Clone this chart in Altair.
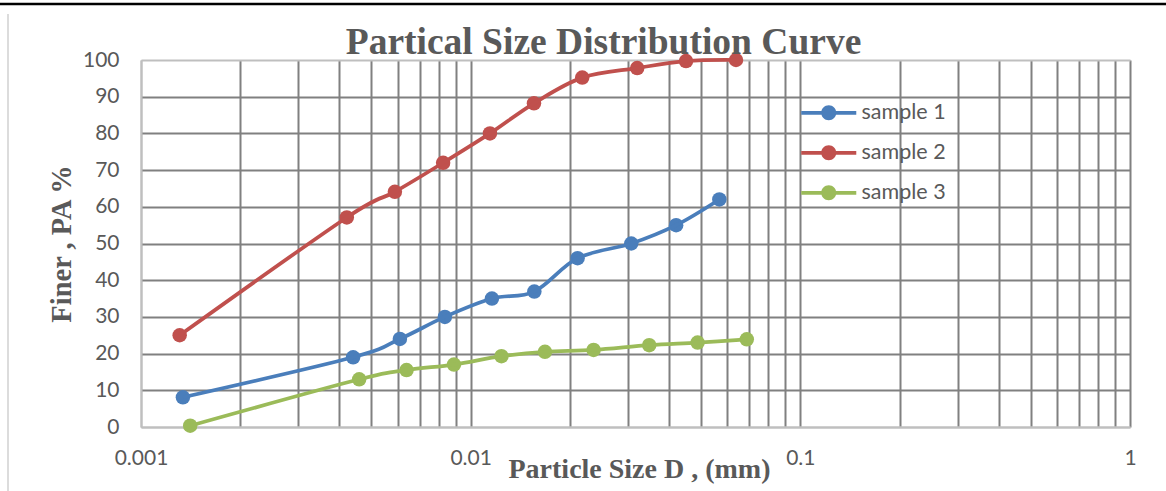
import altair as alt
import pandas as pd

series_names = ["sample 1", "sample 2", "sample 3"]
series_colors = ["#4A7EBB", "#C0504D", "#9BBB59"]

s1_d = [0.00134, 0.0044, 0.0061, 0.00835, 0.0116, 0.0156, 0.0211, 0.0307, 0.042, 0.0568]
s1_f = [8.1, 19, 24, 30, 35, 36.9, 46, 50, 55, 62]

s2_d = [0.00131, 0.00421, 0.00589, 0.00825, 0.01144, 0.01556, 0.0218, 0.032, 0.045, 0.0638]
s2_f = [25, 57.1, 64.1, 72, 80, 88.2, 95.2, 97.8, 99.7, 100]

s3_d = [0.00141, 0.00459, 0.00639, 0.0089, 0.0124, 0.0168, 0.0236, 0.0348, 0.0488, 0.0688]
s3_f = [0.35, 13, 15.5, 17, 19.3, 20.5, 21, 22.3, 23, 23.9]

x_ticks = [0.001, 0.002, 0.003, 0.004, 0.005, 0.006, 0.007, 0.008, 0.009,
           0.01, 0.02, 0.03, 0.04, 0.05, 0.06, 0.07, 0.08, 0.09,
           0.1, 0.2, 0.3, 0.4, 0.5, 0.6, 0.7, 0.8, 0.9, 1]
x_labelled = [0.001, 0.01, 0.1, 1]
y_ticks = [0.0, 10.0, 20.0, 30.0, 40.0, 50.0, 60.0, 70.0, 80.0, 90.0, 100.0]

rows = []
for name, ds, fs in zip(series_names, [s1_d, s2_d, s3_d], [s1_f, s2_f, s3_f]):
    for i, (d, f) in enumerate(zip(ds, fs)):
        rows.append({"series": name, "D": d, "finer": f, "order": i})
df = pd.DataFrame(rows)

GRID = "#808080"
EDGE = "#BFBFBF"
TXT = "#595959"

color_scale = alt.Scale(domain=series_names, range=series_colors)

legend_path = ("M-3.67,-0.25H3.67V0.25H-3.67Z "
               "M1,0A1,1 0 1,1 -1,0A1,1 0 1,1 1,0Z")


def make_legend():
    return alt.Legend(
        title=None,
        orient="none",
        legendX=677,
        legendY=42,
        padding=0,
        symbolType=legend_path,
        symbolSize=225,
        symbolStrokeWidth=0,
        symbolOpacity=1,
        labelOffset=22,
        labelFont="Lato",
        labelFontSize=21.5,
        labelColor=TXT,
        rowPadding=17,
    )


x_axis = alt.Axis(
    values=x_ticks,
    format="~g",
    labelExpr="indexof(%s, datum.value) >= 0 ? datum.label : ''" % str(x_labelled),
    grid=True,
    gridColor={"condition": {"test": "datum.value == 0.001", "value": EDGE}, "value": GRID},
    gridWidth=2,
    ticks=False,
    domainColor=EDGE,
    domainWidth=2,
    labelFont="Lato",
    labelFontSize=21,
    labelColor=TXT,
    labelPadding=20,
    labelFlush=False,
    labelOverlap=False,
    title="Particle Size D , (mm)",
    titleFont="Liberation Serif",
    titleFontSize=28,
    titleFontWeight="bold",
    titleColor=TXT,
    titleBaseline="alphabetic",
    titleAlign="center",
    titleX=498,
    titleY=50,
)

y_axis = alt.Axis(
    values=y_ticks,
    tickCount=11,
    format="d",
    grid=True,
    gridColor={"condition": {"test": "datum.value == 0 || datum.value == 100", "value": EDGE}, "value": GRID},
    gridWidth=2,
    ticks=False,
    domainColor=EDGE,
    domainWidth=2,
    labelFont="Lato",
    labelFontSize=21,
    labelColor=TXT,
    labelPadding=22,
    labelOverlap=False,
    title="Finer , PA %",
    titleFont="Liberation Serif",
    titleFontSize=28.5,
    titleFontWeight="bold",
    titleColor=TXT,
    titleAngle=-90,
    titleAlign="center",
    titleBaseline="alphabetic",
    titleX=-71,
    titleY=183.5,
)

x_scale = alt.Scale(type="log", domain=[0.001, 1], nice=False)
y_scale = alt.Scale(domain=[0, 100], nice=False)

points = alt.Chart(df).mark_circle(size=210, opacity=1).encode(
    x=alt.X("D:Q", scale=x_scale, axis=x_axis),
    y=alt.Y("finer:Q", scale=y_scale, axis=y_axis),
    color=alt.Color("series:N", scale=color_scale, legend=make_legend()),
)

lines = alt.Chart(df).mark_line(strokeWidth=3.75, interpolate="cardinal").encode(
    x=alt.X("D:Q", scale=x_scale, axis=x_axis),
    y=alt.Y("finer:Q", scale=y_scale, axis=y_axis),
    color=alt.Color("series:N", scale=color_scale, legend=make_legend()),
    order="order:Q",
)

deco = alt.Data(values=[{"k": 1}])
top_line = alt.Chart(deco).mark_rule(color="#000000", strokeWidth=2.5).encode(
    x=alt.value(-141), x2=alt.value(1025), y=alt.value(-56)
)
frame_line = alt.Chart(deco).mark_rule(color="#D0D0D0", strokeWidth=1.5).encode(
    x=alt.value(-133), y=alt.value(-46), y2=alt.value(431)
)

chart = alt.layer(points, lines, top_line, frame_line).properties(
    width=989,
    height=367,
    autosize=alt.AutoSizeParams(type="none"),
    padding={"left": 141, "top": 60, "right": 36, "bottom": 64},
    title=alt.TitleParams(
        "Partical Size Distribution Curve",
        font="Liberation Serif",
        fontSize=37.5,
        fontWeight="bold",
        color=TXT,
        anchor="middle",
        dx=-32,
        dy=37,
        offset=-52,
        baseline="alphabetic",
    ),
).configure_view(stroke=None).configure(background="white")

chart.save("out.html", embed_options={"renderer": "svg", "actions": False})
